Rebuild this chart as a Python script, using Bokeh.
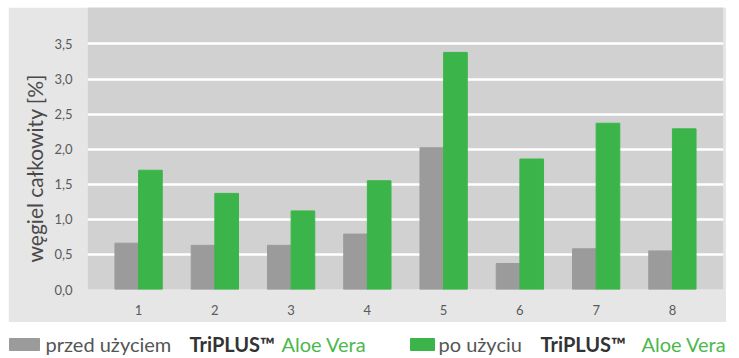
from bokeh.plotting import figure
from bokeh.layouts import column, row, Spacer
from bokeh.models import Range1d, FixedTicker, ColumnDataSource, Title
from bokeh.core.properties import value
from bokeh.embed import file_html
from bokeh.resources import INLINE

groups = [1, 2, 3, 4, 5, 6, 7, 8]
before = [0.66, 0.63, 0.63, 0.79, 2.02, 0.37, 0.58, 0.55]
after = [1.70, 1.37, 1.12, 1.55, 3.38, 1.86, 2.37, 2.29]
y_ticks = [0.0, 0.5, 1.0, 1.5, 2.0, 2.5, 3.0, 3.5]
y_tick_labels = ["0,0", "0,5", "1,0", "1,5", "2,0", "2,5", "3,0", "3,5"]
y_label = "węgiel całkowity [%]"
legend_before = ["przed użyciem", "TriPLUS™", "Aloe Vera"]
legend_after = ["po użyciu", "TriPLUS™", "Aloe Vera"]

GRAY = "#9b9b9b"
GREEN = "#3bb54a"
TXT_GREEN = "#4cb84c"
FONT = "Lato"

off = 0.155
w = 0.31
src = ColumnDataSource(dict(
    xb=[g - off for g in groups], xa=[g + off for g in groups],
    before=before, after=after))

p = figure(width=718, height=315, output_backend="svg", toolbar_location=None,
           x_range=Range1d(0.33, 8.67), y_range=Range1d(0, 4.02),
           min_border_left=79, min_border_right=3, min_border_top=0,
           min_border_bottom=33)
p.border_fill_color = "#e6e6e6"
p.background_fill_color = "#d1d1d1"
p.outline_line_color = None

p.vbar(x="xb", top="before", width=w, source=src, color=GRAY)
p.vbar(x="xa", top="after", width=w, source=src, color=GREEN)

p.xgrid.grid_line_color = None
p.ygrid.ticker = FixedTicker(ticks=y_ticks)
p.ygrid.grid_line_color = "white"
p.ygrid.grid_line_width = 2.5
p.ygrid.level = "underlay"

p.yaxis.ticker = FixedTicker(ticks=y_ticks)
p.yaxis.major_label_overrides = {t: l for t, l in zip(y_ticks, y_tick_labels)}
p.xaxis.ticker = FixedTicker(ticks=groups)
for ax in (p.xaxis, p.yaxis):
    ax.axis_line_color = None
    ax.major_tick_line_color = None
    ax.minor_tick_line_color = None
    ax.major_label_text_font = FONT
    ax.major_label_text_font_size = "13px"
    ax.major_label_text_color = "#5a5a5a"
p.yaxis.major_label_standoff = 9
p.xaxis.major_label_standoff = 9

ylab = Title(text=y_label, align="left", offset=27,
             text_font=FONT, text_font_style="normal",
             text_font_size="21px", text_color="#4a4a4a")
p.add_layout(ylab, "left")

# legend strip
lg = figure(width=739, height=36, output_backend="svg", toolbar_location=None,
            x_range=Range1d(0, 739), y_range=Range1d(36, 0),
            min_border=0)
lg.axis.visible = False
lg.grid.visible = False
lg.outline_line_color = None
lg.border_fill_color = "white"
lg.background_fill_color = "white"

lg.quad(left=[9, 410], right=[39, 434], top=[16, 16], bottom=[28, 28],
        color=[GRAY, GREEN])

segs = [
    (45, legend_before[0], "#555555", "normal"),
    (189, legend_before[1], "#333333", "bold"),
    (281, legend_before[2], TXT_GREEN, "normal"),
    (438, legend_after[0], "#555555", "normal"),
    (540, legend_after[1], "#333333", "bold"),
    (641, legend_after[2], TXT_GREEN, "normal"),
]
for x, t, c, st in segs:
    lg.text(x=[x], y=[21], text=[t], text_color=c, text_font=value(FONT),
            text_font_size="20px", text_font_style=st,
            text_baseline="middle", text_align="left")

layout = column(Spacer(height=7),
                row(Spacer(width=8), p),
                lg, spacing=0)

open("out.html", "w").write(file_html(layout, INLINE))
